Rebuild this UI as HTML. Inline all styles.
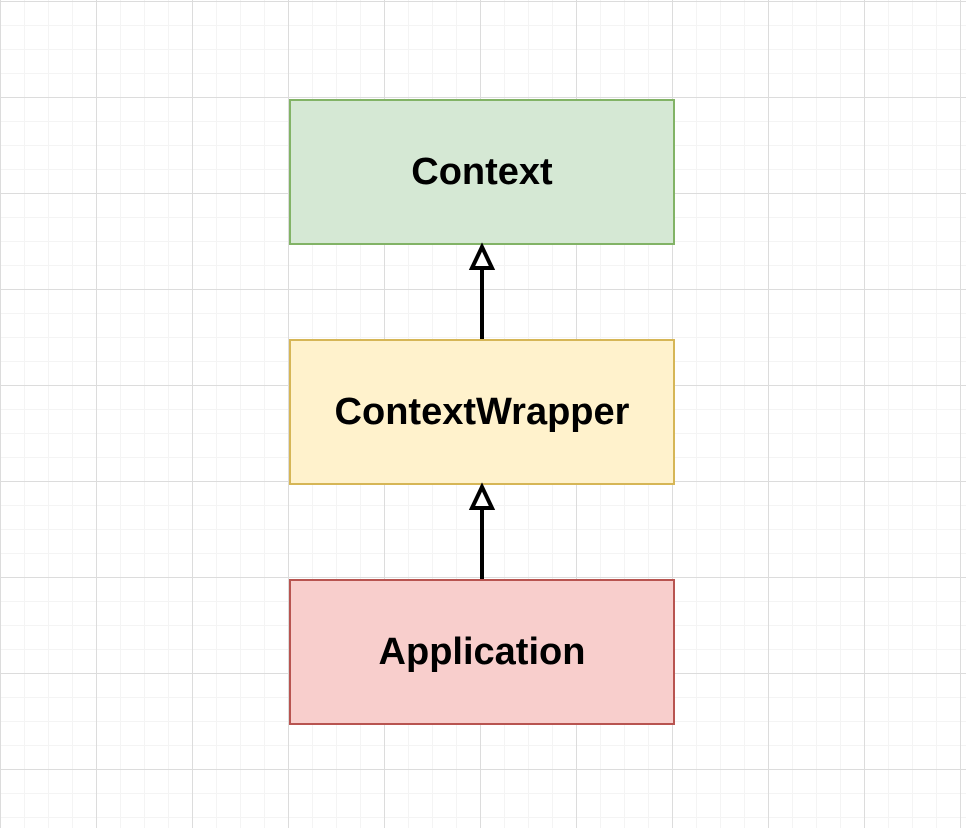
<!DOCTYPE html><html><head><style>
body{margin:0;width:966px;height:828px;overflow:hidden;background:#fff;
background-image:linear-gradient(#dcdcdc 1px,transparent 1px),linear-gradient(90deg,#dcdcdc 1px,transparent 1px),linear-gradient(#f4f4f4 1px,transparent 1px),linear-gradient(90deg,#f4f4f4 1px,transparent 1px);
background-size:96px 96px,96px 96px,24px 24px,24px 24px;background-position:0 1px,0 0,0 1px,0 0;font-family:"Liberation Sans",sans-serif}
.b{position:absolute;left:289px;width:382px;height:142px;display:flex;align-items:center;justify-content:center;font-weight:bold;font-size:38px;color:#000}
</style></head><body>
<div class="b" style="top:99px;background:#d5e8d4;border:2px solid #82b366">Context</div>
<div class="b" style="top:339px;background:#fff2cc;border:2px solid #d6b656">ContextWrapper</div>
<div class="b" style="top:579px;background:#f8cecc;border:2px solid #b85450">Application</div>
<svg width="966" height="828" style="position:absolute;left:0;top:0">
<g stroke="#000" stroke-width="4" fill="#fff">
<line x1="482" y1="339" x2="482" y2="268"/><polygon points="482,247 472,268 492,268"/>
<line x1="482" y1="579" x2="482" y2="508"/><polygon points="482,487 472,508 492,508"/>
</g></svg>
</body></html>
